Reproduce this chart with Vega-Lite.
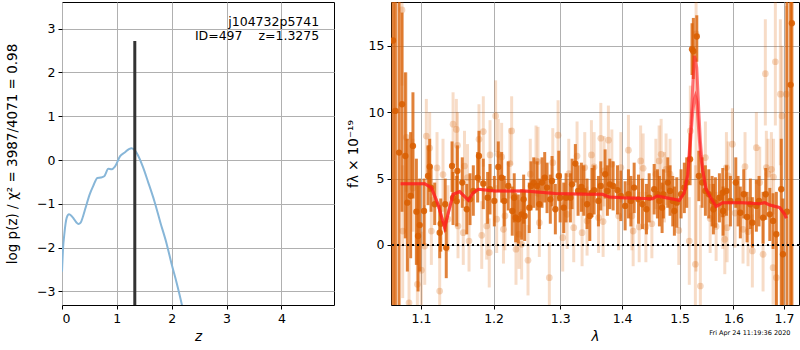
{
 "$schema": "https://vega.github.io/schema/vega-lite/v6.json",
 "background": "white",
 "padding": {"left": 5, "top": 1, "right": 1, "bottom": 0},
 "spacing": 10,
 "config": {
  "font": "DejaVu Sans",
  "view": {"stroke": "black", "strokeWidth": 1},
  "axis": {"domainColor": "black", "tickColor": "black", "labelColor": "black", "titleColor": "black", "gridColor": "#b0b0b0", "gridWidth": 1, "labelFontSize": 12.5, "titleFontSize": 13.5, "titleFontWeight": "normal", "tickSize": 4, "labelPadding": 3, "domain": false},
  "title": {"font": "DejaVu Sans"}
 },
 "title": {"text": "Fri Apr 24 11:19:36 2020", "orient": "bottom", "anchor": "end", "fontSize": 6.5, "fontWeight": "normal", "color": "black", "offset": -14, "dx": -10},
 "datasets": {
  "curve": [
   {"z": 0.0, "v": -2.55}, {"z": 0.02, "v": -2.0}, {"z": 0.042, "v": -1.7}, {"z": 0.065, "v": -1.45}, {"z": 0.085, "v": -1.32},
   {"z": 0.128, "v": -1.24}, {"z": 0.17, "v": -1.27}, {"z": 0.21, "v": -1.33}, {"z": 0.26, "v": -1.42}, {"z": 0.3, "v": -1.46},
   {"z": 0.34, "v": -1.43}, {"z": 0.38, "v": -1.3}, {"z": 0.43, "v": -1.09}, {"z": 0.5, "v": -0.8}, {"z": 0.57, "v": -0.59},
   {"z": 0.645, "v": -0.41}, {"z": 0.705, "v": -0.4}, {"z": 0.77, "v": -0.37}, {"z": 0.845, "v": -0.2}, {"z": 0.905, "v": -0.21},
   {"z": 0.965, "v": -0.15}, {"z": 1.06, "v": 0.09}, {"z": 1.15, "v": 0.18}, {"z": 1.22, "v": 0.25}, {"z": 1.27, "v": 0.27},
   {"z": 1.33, "v": 0.22}, {"z": 1.38, "v": 0.12}, {"z": 1.47, "v": -0.14}, {"z": 1.575, "v": -0.52}, {"z": 1.685, "v": -0.94},
   {"z": 1.795, "v": -1.43}, {"z": 1.91, "v": -1.92}, {"z": 2.0, "v": -2.38}, {"z": 2.09, "v": -2.8}, {"z": 2.185, "v": -3.3}, {"z": 2.25, "v": -3.7}
  ],
  "best": [{"z": 1.3275, "pmax": 2.72, "obj": "j104732p5741", "line2": "ID=497    z=1.3275"}],
  "model": [
   {"l": 1.0735, "lo": 4.62, "hi": 4.62}, {"l": 1.1049, "lo": 4.62, "hi": 4.62}, {"l": 1.1137, "lo": 4.32, "hi": 4.32},
   {"l": 1.1226, "lo": 3.07, "hi": 3.07}, {"l": 1.1317, "lo": 1.3, "hi": 1.3}, {"l": 1.1361, "lo": 2.31, "hi": 2.31},
   {"l": 1.1431, "lo": 3.82, "hi": 3.82}, {"l": 1.1522, "lo": 4.02, "hi": 4.02}, {"l": 1.1642, "lo": 3.37, "hi": 3.37},
   {"l": 1.1712, "lo": 3.94, "hi": 3.94}, {"l": 1.1783, "lo": 4.2, "hi": 4.2}, {"l": 1.2021, "lo": 4.07, "hi": 4.07},
   {"l": 1.2461, "lo": 4.07, "hi": 4.07}, {"l": 1.2923, "lo": 3.87, "hi": 3.87}, {"l": 1.3457, "lo": 3.82, "hi": 3.82},
   {"l": 1.3673, "lo": 3.82, "hi": 3.82}, {"l": 1.3784, "lo": 3.62, "hi": 3.62}, {"l": 1.4006, "lo": 3.56, "hi": 3.56},
   {"l": 1.452, "lo": 3.49, "hi": 3.49}, {"l": 1.4606, "lo": 3.69, "hi": 3.69}, {"l": 1.4758, "lo": 3.56, "hi": 3.56},
   {"l": 1.4995, "lo": 3.37, "hi": 3.37}, {"l": 1.5085, "lo": 3.94, "hi": 3.94}, {"l": 1.5146, "lo": 5.2, "hi": 5.33},
   {"l": 1.5175, "lo": 6.6, "hi": 7.08}, {"l": 1.5207, "lo": 8.3, "hi": 9.1}, {"l": 1.5238, "lo": 10.0, "hi": 12.1},
   {"l": 1.5268, "lo": 11.0, "hi": 14.24}, {"l": 1.5286, "lo": 11.23, "hi": 14.0}, {"l": 1.5312, "lo": 10.8, "hi": 13.36},
   {"l": 1.5349, "lo": 8.5, "hi": 10.1}, {"l": 1.5378, "lo": 6.8, "hi": 7.84}, {"l": 1.5423, "lo": 5.58, "hi": 5.58},
   {"l": 1.5484, "lo": 4.2, "hi": 4.2}, {"l": 1.5577, "lo": 3.5, "hi": 3.5}, {"l": 1.5671, "lo": 2.9, "hi": 2.9},
   {"l": 1.5797, "lo": 3.19, "hi": 3.19}, {"l": 1.6185, "lo": 3.19, "hi": 3.19}, {"l": 1.6513, "lo": 3.11, "hi": 3.11},
   {"l": 1.6612, "lo": 3.19, "hi": 3.19}, {"l": 1.6713, "lo": 3.01, "hi": 3.01}, {"l": 1.6913, "lo": 2.81, "hi": 2.81},
   {"l": 1.7014, "lo": 2.31, "hi": 2.31}, {"l": 1.7047, "lo": 2.01, "hi": 2.01}
  ],
  "spec": [
   {"k": "d", "l": 1.0637, "f": 15.4, "lo": -6, "hi": 20}, {"k": "d", "l": 1.0667, "f": 10.1, "lo": -6, "hi": 20},
   {"k": "d", "l": 1.0714, "f": 6.96, "lo": -6, "hi": 20}, {"k": "d", "l": 1.0752, "f": 10.6, "lo": 2.5, "hi": 17.5},
   {"k": "d", "l": 1.0795, "f": 6.7, "lo": 0.5, "hi": 13}, {"k": "d", "l": 1.0821, "f": 3.19, "lo": -2, "hi": 8},
   {"k": "d", "l": 1.0864, "f": 3.7, "lo": -1, "hi": 8.5}, {"k": "d", "l": 1.0894, "f": 7.46, "lo": 3.5, "hi": 11.5},
   {"k": "d", "l": 1.0939, "f": 2.51, "lo": -1.5, "hi": 6.5}, {"k": "d", "l": 1.0961, "f": 0.68, "lo": -3.5, "hi": 4.5},
   {"k": "d", "l": 1.0983, "f": 1.5, "lo": -2, "hi": 5}, {"k": "d", "l": 1.104, "f": 2.56, "lo": 0, "hi": 5},
   {"k": "d", "l": 1.1093, "f": 5.2, "lo": 3, "hi": 7.5}, {"k": "d", "l": 1.1115, "f": 5.9, "lo": 4, "hi": 8},
   {"k": "d", "l": 1.1133, "f": 4.32, "lo": 2.5, "hi": 6}, {"k": "d", "l": 1.1182, "f": 3.07, "lo": 1.5, "hi": 4.7},
   {"k": "d", "l": 1.1249, "f": 0.93, "lo": -1, "hi": 3}, {"k": "d", "l": 1.1263, "f": 1.6, "lo": -0.5, "hi": 3.5},
   {"k": "d", "l": 1.1324, "f": 3.07, "lo": 1, "hi": 5}, {"k": "d", "l": 1.1338, "f": -0.2, "lo": -2.5, "hi": 2},
   {"k": "d", "l": 1.1417, "f": 5.95, "lo": 4, "hi": 7.8}, {"k": "d", "l": 1.1431, "f": 3.56, "lo": 1.5, "hi": 5.5},
   {"k": "d", "l": 1.1481, "f": 3.3, "lo": 1.4, "hi": 5.2}, {"k": "d", "l": 1.149, "f": 5.58, "lo": 3.5, "hi": 7.5},
   {"k": "d", "l": 1.1558, "f": 4.7, "lo": 2.8, "hi": 6.6}, {"k": "d", "l": 1.162, "f": 2.69, "lo": 0.8, "hi": 4.6},
   {"k": "d", "l": 1.1666, "f": 3.44, "lo": 1.5, "hi": 5.4}, {"k": "d", "l": 1.1712, "f": 4.07, "lo": 2.2, "hi": 6},
   {"k": "d", "l": 1.1773, "f": 5.07, "lo": 3.2, "hi": 7}, {"k": "d", "l": 1.1792, "f": 6.7, "lo": 4.7, "hi": 8.6},
   {"k": "d", "l": 1.1853, "f": 4.62, "lo": 2.7, "hi": 6.5}, {"k": "d", "l": 1.1915, "f": 3.56, "lo": 1.6, "hi": 5.5},
   {"k": "d", "l": 1.1949, "f": 4.2, "lo": 2.3, "hi": 6.1}, {"k": "d", "l": 1.2011, "f": 3.32, "lo": 1.4, "hi": 5.2},
   {"k": "d", "l": 1.2068, "f": 5.88, "lo": 4, "hi": 7.8}, {"k": "d", "l": 1.2117, "f": 5.07, "lo": 3.2, "hi": 7},
   {"k": "d", "l": 1.2155, "f": 3.32, "lo": 1.4, "hi": 5.2}, {"k": "d", "l": 1.2213, "f": 4.45, "lo": 2.6, "hi": 6.3},
   {"k": "d", "l": 1.2272, "f": 2.56, "lo": 0.7, "hi": 4.4}, {"k": "d", "l": 1.2301, "f": 3.56, "lo": 1.7, "hi": 5.4},
   {"k": "d", "l": 1.2322, "f": 2.06, "lo": 0.2, "hi": 3.9}, {"k": "d", "l": 1.2361, "f": 1.94, "lo": 0.1, "hi": 3.8},
   {"k": "d", "l": 1.2411, "f": 2.31, "lo": 0.4, "hi": 4.2}, {"k": "d", "l": 1.2441, "f": 3.44, "lo": 1.6, "hi": 5.3},
   {"k": "d", "l": 1.2456, "f": 2.19, "lo": 0.3, "hi": 4.1}, {"k": "d", "l": 1.2525, "f": 2.81, "lo": 0.9, "hi": 4.7},
   {"k": "d", "l": 1.2551, "f": 4.45, "lo": 2.6, "hi": 6.3}, {"k": "d", "l": 1.2592, "f": 4.7, "lo": 2.8, "hi": 6.6},
   {"k": "d", "l": 1.2642, "f": 4.45, "lo": 2.6, "hi": 6.3}, {"k": "d", "l": 1.2677, "f": 3.07, "lo": 1.2, "hi": 5},
   {"k": "d", "l": 1.2718, "f": 4.7, "lo": 2.8, "hi": 6.6}, {"k": "d", "l": 1.2759, "f": 5.07, "lo": 3.2, "hi": 7},
   {"k": "d", "l": 1.2795, "f": 4.32, "lo": 2.4, "hi": 6.2}, {"k": "d", "l": 1.2845, "f": 3.44, "lo": 1.6, "hi": 5.3},
   {"k": "d", "l": 1.2872, "f": 4.82, "lo": 2.9, "hi": 6.7}, {"k": "d", "l": 1.2923, "f": 2.69, "lo": 0.8, "hi": 4.6},
   {"k": "d", "l": 1.2976, "f": 5.2, "lo": 3.3, "hi": 7.1}, {"k": "d", "l": 1.2997, "f": 3.56, "lo": 1.7, "hi": 5.4},
   {"k": "d", "l": 1.3054, "f": 2.81, "lo": 0.9, "hi": 4.7}, {"k": "d", "l": 1.309, "f": 3.56, "lo": 1.7, "hi": 5.4},
   {"k": "d", "l": 1.3158, "f": 3.56, "lo": 1.7, "hi": 5.4}, {"k": "d", "l": 1.3185, "f": 4.57, "lo": 2.7, "hi": 6.5},
   {"k": "d", "l": 1.3237, "f": 6.13, "lo": 4.7, "hi": 7.6}, {"k": "d", "l": 1.328, "f": 4.07, "lo": 2.2, "hi": 6},
   {"k": "d", "l": 1.3333, "f": 4.37, "lo": 2.5, "hi": 6.2}, {"k": "d", "l": 1.3371, "f": 4.07, "lo": 2.2, "hi": 6},
   {"k": "d", "l": 1.3424, "f": 3.07, "lo": 1.2, "hi": 5}, {"k": "d", "l": 1.3468, "f": 2.19, "lo": 0.3, "hi": 4.1},
   {"k": "d", "l": 1.3505, "f": 3.94, "lo": 2.1, "hi": 5.8}, {"k": "d", "l": 1.3538, "f": 4.12, "lo": 2.3, "hi": 6},
   {"k": "d", "l": 1.3608, "f": 3.32, "lo": 1.4, "hi": 5.2}, {"k": "d", "l": 1.3647, "f": 4.45, "lo": 2.6, "hi": 6.3},
   {"k": "d", "l": 1.3718, "f": 5.33, "lo": 3.5, "hi": 7.2}, {"k": "d", "l": 1.3755, "f": 4.07, "lo": 2.2, "hi": 6},
   {"k": "d", "l": 1.3795, "f": 4.57, "lo": 2.7, "hi": 6.5}, {"k": "d", "l": 1.385, "f": 4.45, "lo": 2.6, "hi": 6.3},
   {"k": "d", "l": 1.3922, "f": 4.12, "lo": 2.3, "hi": 6}, {"k": "d", "l": 1.3979, "f": 3.69, "lo": 1.8, "hi": 5.6},
   {"k": "d", "l": 1.4051, "f": 2.94, "lo": 1.1, "hi": 4.8}, {"k": "d", "l": 1.4107, "f": 3.82, "lo": 2, "hi": 5.7},
   {"k": "d", "l": 1.4148, "f": 3.32, "lo": 1.4, "hi": 5.2}, {"k": "d", "l": 1.4204, "f": 4.32, "lo": 2.4, "hi": 6.2},
   {"k": "d", "l": 1.4278, "f": 3.44, "lo": 1.6, "hi": 5.3}, {"k": "d", "l": 1.4346, "f": 3.07, "lo": 1.2, "hi": 5},
   {"k": "d", "l": 1.4415, "f": 2.69, "lo": 0.8, "hi": 4.6}, {"k": "d", "l": 1.4462, "f": 3.56, "lo": 1.7, "hi": 5.4},
   {"k": "d", "l": 1.4549, "f": 4.2, "lo": 2.3, "hi": 6.1}, {"k": "d", "l": 1.4606, "f": 3.82, "lo": 2, "hi": 5.7},
   {"k": "d", "l": 1.4641, "f": 3.32, "lo": 1.4, "hi": 5.2}, {"k": "d", "l": 1.4688, "f": 2.81, "lo": 0.9, "hi": 4.7},
   {"k": "d", "l": 1.4711, "f": 3.82, "lo": 2, "hi": 5.7}, {"k": "d", "l": 1.4788, "f": 4.7, "lo": 2.8, "hi": 6.6},
   {"k": "d", "l": 1.4829, "f": 4.07, "lo": 2.2, "hi": 6}, {"k": "d", "l": 1.4877, "f": 3.32, "lo": 1.4, "hi": 5.2},
   {"k": "d", "l": 1.4906, "f": 2.56, "lo": 0.7, "hi": 4.4}, {"k": "d", "l": 1.4949, "f": 3.19, "lo": 1.3, "hi": 5.1},
   {"k": "d", "l": 1.5026, "f": 3.82, "lo": 2, "hi": 5.7}, {"k": "d", "l": 1.5085, "f": 4.32, "lo": 2.4, "hi": 6.2},
   {"k": "d", "l": 1.5128, "f": 4.7, "lo": 2.8, "hi": 6.6}, {"k": "d", "l": 1.5189, "f": 6.46, "lo": 4.5, "hi": 8.4},
   {"k": "d", "l": 1.5225, "f": 14.75, "lo": 12.8, "hi": 16.7}, {"k": "d", "l": 1.5249, "f": 14.6, "lo": 12.5, "hi": 17.1},
   {"k": "d", "l": 1.5312, "f": 15.7, "lo": 13.8, "hi": 17.3}, {"k": "d", "l": 1.5349, "f": 5.2, "lo": 3.3, "hi": 7.1},
   {"k": "d", "l": 1.541, "f": 4.7, "lo": 2.8, "hi": 6.6}, {"k": "d", "l": 1.5471, "f": 4.07, "lo": 2.2, "hi": 6},
   {"k": "d", "l": 1.5534, "f": 3.82, "lo": 2, "hi": 5.7}, {"k": "d", "l": 1.5596, "f": 3.32, "lo": 1.4, "hi": 5.2},
   {"k": "d", "l": 1.562, "f": 2.69, "lo": 0.8, "hi": 4.6}, {"k": "d", "l": 1.5658, "f": 3.19, "lo": 1.3, "hi": 5.1},
   {"k": "d", "l": 1.5733, "f": 3.56, "lo": 1.7, "hi": 5.4}, {"k": "d", "l": 1.5797, "f": 3.94, "lo": 2.1, "hi": 5.8},
   {"k": "d", "l": 1.5803, "f": 2.56, "lo": 0.7, "hi": 4.4}, {"k": "d", "l": 1.5866, "f": 4.07, "lo": 2.2, "hi": 6},
   {"k": "d", "l": 1.5942, "f": 3.32, "lo": 1.4, "hi": 5.2}, {"k": "d", "l": 1.6045, "f": 4.7, "lo": 2.8, "hi": 6.6},
   {"k": "d", "l": 1.6089, "f": 3.32, "lo": 1.4, "hi": 5.2}, {"k": "d", "l": 1.6133, "f": 2.43, "lo": 0.5, "hi": 4.4},
   {"k": "d", "l": 1.6199, "f": 3.82, "lo": 2, "hi": 5.7}, {"k": "d", "l": 1.6264, "f": 2.11, "lo": 0.2, "hi": 4},
   {"k": "d", "l": 1.6328, "f": 3.07, "lo": 1.2, "hi": 5}, {"k": "d", "l": 1.6367, "f": 1.68, "lo": -0.2, "hi": 3.6},
   {"k": "d", "l": 1.6446, "f": 2.94, "lo": 1, "hi": 4.9}, {"k": "d", "l": 1.6499, "f": 3.32, "lo": 1.4, "hi": 5.2},
   {"k": "d", "l": 1.6579, "f": 2.06, "lo": 0.1, "hi": 4}, {"k": "d", "l": 1.6632, "f": 3.82, "lo": 1.9, "hi": 5.8},
   {"k": "d", "l": 1.6713, "f": 2.31, "lo": 0.3, "hi": 4.3}, {"k": "d", "l": 1.6779, "f": 1.81, "lo": -0.3, "hi": 3.9},
   {"k": "d", "l": 1.6845, "f": 0.81, "lo": -6, "hi": 4}, {"k": "d", "l": 1.6945, "f": 4.2, "lo": -6, "hi": 8},
   {"k": "d", "l": 1.6979, "f": -0.7, "lo": -6, "hi": 3.5}, {"k": "d", "l": 1.7061, "f": 2.51, "lo": -6, "hi": 20},
   {"k": "d", "l": 1.7136, "f": 12.06, "lo": -6, "hi": 20}, {"k": "d", "l": 1.7162, "f": 16.7, "lo": -6, "hi": 20},
   {"k": "l", "l": 1.0752, "f": 17.7, "lo": 12, "hi": 20}, {"k": "l", "l": 1.0808, "f": 8.1, "lo": 4, "hi": 13},
   {"k": "l", "l": 1.0761, "f": 1.05, "lo": -4, "hi": 6}, {"k": "l", "l": 1.0843, "f": -4.35, "lo": -6, "hi": -1},
   {"k": "l", "l": 1.0952, "f": -2.96, "lo": -6, "hi": 0.5}, {"k": "l", "l": 1.1049, "f": -0.08, "lo": -3, "hi": 3},
   {"k": "l", "l": 1.107, "f": 8.2, "lo": 5, "hi": 11}, {"k": "l", "l": 1.1004, "f": -1.9, "lo": -5, "hi": 1},
   {"k": "l", "l": 1.1137, "f": 1.05, "lo": -1.5, "hi": 3.6}, {"k": "l", "l": 1.1213, "f": 5.8, "lo": 3, "hi": 8.5},
   {"k": "l", "l": 1.1249, "f": -3.47, "lo": -6, "hi": -1}, {"k": "l", "l": 1.1294, "f": 5.3, "lo": 2.5, "hi": 8},
   {"k": "l", "l": 1.1361, "f": 1.94, "lo": -0.5, "hi": 4.5}, {"k": "l", "l": 1.1431, "f": 9.1, "lo": 6, "hi": 11.5},
   {"k": "l", "l": 1.1476, "f": 8.7, "lo": 6, "hi": 11}, {"k": "l", "l": 1.1492, "f": 7.5, "lo": 5, "hi": 10},
   {"k": "l", "l": 1.1499, "f": 1.43, "lo": -1, "hi": 4}, {"k": "l", "l": 1.0894, "f": 4.3, "lo": 1, "hi": 8},
   {"k": "l", "l": 1.1115, "f": 7.3, "lo": 4.5, "hi": 10}, {"k": "l", "l": 1.1572, "f": 0.93, "lo": -1.5, "hi": 3.5},
   {"k": "l", "l": 1.1589, "f": 5.95, "lo": 3.3, "hi": 8.6}, {"k": "l", "l": 1.1652, "f": 0.3, "lo": -2, "hi": 2.7},
   {"k": "l", "l": 1.1631, "f": 5.07, "lo": 2.5, "hi": 7.6}, {"k": "l", "l": 1.1792, "f": 7.96, "lo": 5.3, "hi": 10.6},
   {"k": "l", "l": 1.1853, "f": 8.54, "lo": 5.9, "hi": 11.2}, {"k": "l", "l": 1.1831, "f": 0.73, "lo": -1.8, "hi": 3.3},
   {"k": "l", "l": 1.1901, "f": 1.43, "lo": -1.1, "hi": 4}, {"k": "l", "l": 1.1938, "f": -0.58, "lo": -3.2, "hi": 2},
   {"k": "l", "l": 1.1949, "f": 6.78, "lo": 4.1, "hi": 9.4}, {"k": "l", "l": 1.203, "f": 9.72, "lo": 7, "hi": 12.4},
   {"k": "l", "l": 1.2045, "f": 1.94, "lo": -0.6, "hi": 4.5}, {"k": "l", "l": 1.2068, "f": 6.83, "lo": 4.2, "hi": 9.5},
   {"k": "l", "l": 1.2117, "f": 6.63, "lo": 4, "hi": 9.2}, {"k": "l", "l": 1.2165, "f": 2.19, "lo": -0.4, "hi": 4.8},
   {"k": "l", "l": 1.2143, "f": 1.18, "lo": -1.4, "hi": 3.8}, {"k": "l", "l": 1.2263, "f": 8.59, "lo": 6, "hi": 11.2},
   {"k": "l", "l": 1.2238, "f": 6.13, "lo": 3.5, "hi": 8.8}, {"k": "l", "l": 1.2327, "f": -0.32, "lo": -3, "hi": 2.3},
   {"k": "l", "l": 1.2371, "f": 0.81, "lo": -1.8, "hi": 3.4}, {"k": "l", "l": 1.2411, "f": 0.05, "lo": -2.6, "hi": 2.7},
   {"k": "l", "l": 1.2506, "f": -1.15, "lo": -3.8, "hi": 1.5}, {"k": "l", "l": 1.254, "f": 5.33, "lo": 2.7, "hi": 8},
   {"k": "l", "l": 1.2627, "f": 6.33, "lo": 3.7, "hi": 9}, {"k": "l", "l": 1.2657, "f": 6.28, "lo": 3.6, "hi": 8.9},
   {"k": "l", "l": 1.2677, "f": 1.68, "lo": -0.9, "hi": 4.3}, {"k": "l", "l": 1.283, "f": -2.46, "lo": -5, "hi": 0.2},
   {"k": "l", "l": 1.2883, "f": 6.2, "lo": 3.6, "hi": 8.8}, {"k": "l", "l": 1.2965, "f": 8.27, "lo": 5.6, "hi": 10.9},
   {"k": "l", "l": 1.3038, "f": 0.55, "lo": -2, "hi": 3.2}, {"k": "l", "l": 1.3106, "f": 2.31, "lo": -0.3, "hi": 4.9},
   {"k": "l", "l": 1.3211, "f": 1.3, "lo": -1.3, "hi": 3.9}, {"k": "l", "l": 1.3264, "f": 6.7, "lo": 4, "hi": 9.3},
   {"k": "l", "l": 1.3344, "f": 0.93, "lo": -1.6, "hi": 3.5}, {"k": "l", "l": 1.3387, "f": 5.83, "lo": 3.2, "hi": 8.5},
   {"k": "l", "l": 1.3424, "f": 1.81, "lo": -0.8, "hi": 4.4}, {"k": "l", "l": 1.3494, "f": 6.78, "lo": 4.1, "hi": 9.4},
   {"k": "l", "l": 1.3133, "f": 5.37, "lo": 2.7, "hi": 8}, {"k": "l", "l": 1.3538, "f": 5.88, "lo": 3.2, "hi": 8.5},
   {"k": "l", "l": 1.3647, "f": 8.04, "lo": 5.4, "hi": 10.7}, {"k": "l", "l": 1.3701, "f": 5.58, "lo": 2.9, "hi": 8.2},
   {"k": "l", "l": 1.3772, "f": 7.89, "lo": 5.2, "hi": 10.5}, {"k": "l", "l": 1.3829, "f": 6.08, "lo": 3.4, "hi": 8.7},
   {"k": "l", "l": 1.3685, "f": 1.76, "lo": -0.9, "hi": 4.4}, {"k": "l", "l": 1.3611, "f": 2.06, "lo": -0.6, "hi": 4.7},
   {"k": "l", "l": 1.3979, "f": 5.83, "lo": 3.2, "hi": 8.5}, {"k": "l", "l": 1.3942, "f": 2.19, "lo": -0.4, "hi": 4.8},
   {"k": "l", "l": 1.4107, "f": 7.14, "lo": 4.5, "hi": 9.8}, {"k": "l", "l": 1.4165, "f": 2.19, "lo": -0.4, "hi": 4.8},
   {"k": "l", "l": 1.4187, "f": 1.05, "lo": -1.6, "hi": 3.7}, {"k": "l", "l": 1.429, "f": 1.36, "lo": -1.3, "hi": 4},
   {"k": "l", "l": 1.4315, "f": 6.33, "lo": 3.7, "hi": 9}, {"k": "l", "l": 1.4358, "f": 5.78, "lo": 3.1, "hi": 8.4},
   {"k": "l", "l": 1.4405, "f": 1.36, "lo": -1.3, "hi": 4}, {"k": "l", "l": 1.4509, "f": 1.6, "lo": -1, "hi": 4.2},
   {"k": "l", "l": 1.4579, "f": 5.33, "lo": 2.7, "hi": 8}, {"k": "l", "l": 1.4636, "f": 6.33, "lo": 3.7, "hi": 9},
   {"k": "l", "l": 1.4671, "f": 6.83, "lo": 4.2, "hi": 9.5}, {"k": "l", "l": 1.4758, "f": 5.7, "lo": 3, "hi": 8.4},
   {"k": "l", "l": 1.4829, "f": 5.33, "lo": 2.7, "hi": 8}, {"k": "l", "l": 1.4985, "f": 1.1, "lo": -1.5, "hi": 3.7},
   {"k": "l", "l": 1.5175, "f": 0.3, "lo": -3, "hi": 3.6}, {"k": "l", "l": 1.5286, "f": -1.45, "lo": -6, "hi": 6},
   {"k": "l", "l": 1.5378, "f": -3.09, "lo": -6, "hi": 3}, {"k": "l", "l": 1.5471, "f": 6.58, "lo": 3.9, "hi": 9.3},
   {"k": "l", "l": 1.5797, "f": 2.31, "lo": -0.3, "hi": 4.9}, {"k": "l", "l": 1.5299, "f": 15.9, "lo": -2, "hi": 20},
   {"k": "l", "l": 1.5194, "f": 8.59, "lo": 5, "hi": 12}, {"k": "l", "l": 1.4729, "f": 4.32, "lo": 1.7, "hi": 7},
   {"k": "l", "l": 1.598, "f": 7.59, "lo": 4.9, "hi": 10.3}, {"k": "l", "l": 1.6446, "f": 7.33, "lo": 4.6, "hi": 10},
   {"k": "l", "l": 1.6624, "f": 12.9, "lo": 9, "hi": 17}, {"k": "l", "l": 1.6825, "f": 13.8, "lo": 9, "hi": 18.5},
   {"k": "l", "l": 1.6926, "f": 11.36, "lo": 6, "hi": 17}, {"k": "l", "l": 1.7047, "f": 11.36, "lo": 5, "hi": 18},
   {"k": "l", "l": 1.6959, "f": 9.72, "lo": 4, "hi": 15}, {"k": "l", "l": 1.6644, "f": 5.83, "lo": 3, "hi": 8.6},
   {"k": "l", "l": 1.6745, "f": 5.7, "lo": 2.9, "hi": 8.5}, {"k": "l", "l": 1.6789, "f": 5.12, "lo": 2.3, "hi": 8},
   {"k": "l", "l": 1.5866, "f": 5.83, "lo": 3.2, "hi": 8.5}, {"k": "l", "l": 1.5899, "f": 5.2, "lo": 2.6, "hi": 7.8},
   {"k": "l", "l": 1.6579, "f": -0.7, "lo": -3.5, "hi": 2.1}, {"k": "l", "l": 1.6779, "f": -1.71, "lo": -4.5, "hi": 1.1},
   {"k": "l", "l": 1.6845, "f": -2.46, "lo": -5, "hi": 0.6}, {"k": "l", "l": 1.6367, "f": -0.45, "lo": -3.2, "hi": 2.3},
   {"k": "l", "l": 1.5835, "f": 0.43, "lo": -2.2, "hi": 3.1}, {"k": "l", "l": 1.5879, "f": 1.3, "lo": -1.3, "hi": 3.9},
   {"k": "l", "l": 1.6185, "f": 1.18, "lo": -1.4, "hi": 3.8}, {"k": "l", "l": 1.6513, "f": 4.7, "lo": 2, "hi": 7.4},
   {"k": "l", "l": 1.6679, "f": 5.33, "lo": 2.6, "hi": 8}, {"k": "l", "l": 1.5559, "f": 2.0, "lo": -0.6, "hi": 4.6},
   {"k": "l", "l": 1.5671, "f": 1.4, "lo": -1.2, "hi": 4}, {"k": "l", "l": 1.6032, "f": 2.4, "lo": -0.2, "hi": 5},
   {"k": "l", "l": 1.6224, "f": 5.9, "lo": 3.3, "hi": 8.5}, {"k": "l", "l": 1.6283, "f": 1.0, "lo": -1.6, "hi": 3.6}
  ]
 },
 "hconcat": [
  {
   "width": 272, "height": 303,
   "layer": [
    {
     "data": {"name": "curve"},
     "mark": {"type": "line", "color": "#87b6d8", "strokeWidth": 2, "clip": true, "interpolate": "monotone"},
     "encoding": {
      "x": {"field": "z", "type": "quantitative", "scale": {"domain": [0, 4.96], "nice": false, "zero": false}, "axis": {"values": [0, 1, 2, 3, 4], "title": "z", "titleFontStyle": "italic", "titlePadding": 5}},
      "y": {"field": "v", "type": "quantitative", "scale": {"domain": [-3.31, 3.61], "nice": false, "zero": false}, "axis": {"values": [-3, -2, -1, 0, 1, 2, 3], "title": "log p(z) / χ² = 3987/4071 = 0.98", "titlePadding": 17}}
     }
    },
    {
     "data": {"name": "best"},
     "mark": {"type": "rule", "color": "#333333", "strokeWidth": 3, "clip": true},
     "encoding": {
      "x": {"field": "z", "type": "quantitative"},
      "y": {"field": "pmax", "type": "quantitative"},
      "y2": {"datum": -3.5}
     }
    },
    {
     "data": {"name": "best"},
     "mark": {"type": "text", "align": "right", "baseline": "alphabetic", "fontSize": 12.5, "color": "black"},
     "encoding": {"x": {"datum": 4.69}, "y": {"datum": 3.06}, "text": {"field": "obj"}}
    },
    {
     "data": {"name": "best"},
     "mark": {"type": "text", "align": "right", "baseline": "alphabetic", "fontSize": 12.5, "color": "black"},
     "encoding": {"x": {"datum": 4.69}, "y": {"datum": 2.74}, "text": {"value": "ID=497\u00a0\u00a0\u00a0\u00a0z=1.3275"}}
    }
   ]
  },
  {
   "width": 408, "height": 303,
   "layer": [
    {
     "data": {"name": "spec"},
     "transform": [{"filter": "datum.k == 'l'"}],
     "mark": {"type": "rule", "color": "#d95f02", "opacity": 0.22, "strokeWidth": 3, "clip": true},
     "encoding": {
      "x": {"field": "l", "type": "quantitative", "scale": {"type": "log", "domain": [1.0611, 1.7309], "nice": false}, "axis": {"values": [1.1, 1.2, 1.3, 1.4, 1.5, 1.6, 1.7], "format": ".1f", "title": "λ", "titleFontStyle": "italic", "titlePadding": 5}},
      "y": {"field": "lo", "type": "quantitative", "scale": {"domain": [-4.52, 18.3], "nice": false, "zero": false}, "axis": {"values": [0, 5, 10, 15], "title": "fλ × 10⁻¹⁹", "titlePadding": 8}},
      "y2": {"field": "hi"}
     }
    },
    {
     "data": {"name": "spec"},
     "transform": [{"filter": "datum.k == 'l'"}],
     "mark": {"type": "circle", "color": "#d95f02", "opacity": 0.25, "size": 45, "clip": true},
     "encoding": {"x": {"field": "l", "type": "quantitative"}, "y": {"field": "f", "type": "quantitative"}}
    },
    {
     "data": {"name": "spec"},
     "transform": [{"filter": "datum.k == 'd'"}],
     "mark": {"type": "rule", "color": "#d95f02", "opacity": 0.78, "strokeWidth": 3, "clip": true},
     "encoding": {"x": {"field": "l", "type": "quantitative"}, "y": {"field": "lo", "type": "quantitative"}, "y2": {"field": "hi"}}
    },
    {
     "data": {"name": "spec"},
     "transform": [{"filter": "datum.k == 'd'"}],
     "mark": {"type": "circle", "color": "#d95f02", "opacity": 0.9, "size": 40, "clip": true},
     "encoding": {"x": {"field": "l", "type": "quantitative"}, "y": {"field": "f", "type": "quantitative"}}
    },
    {
     "data": {"name": "model"},
     "mark": {"type": "area", "color": "#ff8080", "opacity": 0.35, "clip": true},
     "encoding": {"x": {"field": "l", "type": "quantitative"}, "y": {"field": "lo", "type": "quantitative"}, "y2": {"field": "hi"}}
    },
    {
     "data": {"name": "model"},
     "mark": {"type": "line", "color": "#ff2020", "opacity": 0.6, "strokeWidth": 3, "clip": true},
     "encoding": {"x": {"field": "l", "type": "quantitative"}, "y": {"field": "hi", "type": "quantitative"}}
    },
    {
     "data": {"name": "model"},
     "mark": {"type": "line", "color": "#ff2020", "opacity": 0.6, "strokeWidth": 3, "clip": true},
     "encoding": {"x": {"field": "l", "type": "quantitative"}, "y": {"field": "lo", "type": "quantitative"}}
    },
    {
     "data": {"name": "best"},
     "mark": {"type": "rule", "color": "black", "strokeWidth": 2, "strokeDash": [2, 3]},
     "encoding": {"y": {"datum": 0}}
    }
   ]
  }
 ]
}
